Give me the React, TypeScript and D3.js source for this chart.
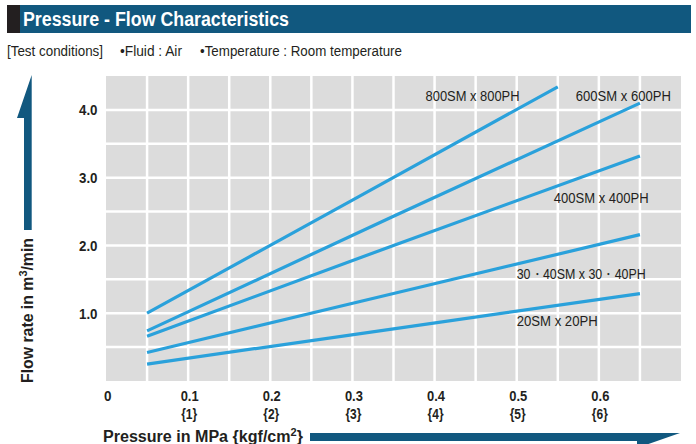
import React from "react";
import * as d3 from "d3";

const W = 696;
const H = 444;

const seriesNames = ["800SM x 800PH", "600SM x 600PH", "400SM x 400PH", "30・40SM x 30・40PH", "20SM x 20PH"];
const s800 = [[0.05, 1.0], [0.3, 2.67], [0.55, 4.34]];
const s600 = [[0.05, 0.74], [0.35, 2.43], [0.65, 4.1]];
const s400 = [[0.05, 0.66], [0.35, 2.0], [0.65, 3.32]];
const s3040 = [[0.05, 0.42], [0.35, 1.29], [0.65, 2.16]];
const s20 = [[0.05, 0.25], [0.35, 0.77], [0.65, 1.29]];
const allSeries = [s800, s600, s400, s3040, s20];

const xTicks = [0.1, 0.2, 0.3, 0.4, 0.5, 0.6];
const xTickKgf = ["{1}", "{2}", "{3}", "{4}", "{5}", "{6}"];
const yTicks = [1.0, 2.0, 3.0, 4.0];
const xGrid = [0.05, 0.1, 0.15, 0.2, 0.25, 0.3, 0.35, 0.4, 0.45, 0.5, 0.55, 0.6, 0.65];
const yGrid = [0.5, 1.0, 1.5, 2.0, 2.5, 3.0, 3.5, 4.0];

// label placement: [x value, y value, width px]
const labelPos = [
  [0.389, 4.2, 94],
  [0.572, 4.2, 95],
  [0.545, 2.7, 95],
  [0.5, 1.58, 129],
  [0.5, 0.88, 81],
];

const FONT = "'Liberation Sans', Arial, Helvetica, sans-serif";
const BLUE = "#11587f";
const LINE = "#2aa1db";
const TXT = "#231f20";

export default function App() {
  const x = d3.scaleLinear().domain([0, 0.7]).range([106, 681]);
  const y = d3.scaleLinear().domain([0, 4.5]).range([381, 76]);
  const line = d3.line<number[]>().x((d) => x(d[0])).y((d) => y(d[1]));

  return (
    <svg width={W} height={H} style={{ position: "absolute", left: 0, top: 0, background: "#fff" }} fontFamily={FONT}>
      {/* header */}
      <rect x={7} y={5} width={13} height={28} fill="#231f20" />
      <rect x={20} y={5} width={671} height={28} fill={BLUE} />
      <text x={23} y={26} fill="#fff" fontSize={20} fontWeight="bold" textLength={266} lengthAdjust="spacingAndGlyphs">
        Pressure - Flow Characteristics
      </text>
      <text x={7} y={56} fill={TXT} fontSize={14} textLength={96} lengthAdjust="spacingAndGlyphs">[Test conditions]</text>
      <text x={120} y={56} fill={TXT} fontSize={14} textLength={62} lengthAdjust="spacingAndGlyphs">•Fluid : Air</text>
      <text x={200} y={56} fill={TXT} fontSize={14} textLength={202} lengthAdjust="spacingAndGlyphs">•Temperature : Room temperature</text>

      {/* plot background */}
      <rect x={x(0)} y={y(4.5)} width={x(0.7) - x(0)} height={y(0) - y(4.5)} fill="#dcdcdc" />
      {xGrid.map((g) => (
        <line key={"xg" + g} x1={x(g)} x2={x(g)} y1={y(4.5)} y2={y(0)} stroke="#fff" strokeWidth={2.5} />
      ))}
      {yGrid.map((g) => (
        <line key={"yg" + g} x1={x(0)} x2={x(0.7)} y1={y(g)} y2={y(g)} stroke="#fff" strokeWidth={2.5} />
      ))}

      {/* series */}
      {allSeries.map((s, i) => (
        <path key={"s" + i} d={line(s) || ""} fill="none" stroke={LINE} strokeWidth={3.2} />
      ))}
      {seriesNames.map((n, i) => (
        <text key={"l" + i} x={x(labelPos[i][0])} y={y(labelPos[i][1]) + 5} fill={TXT} fontSize={14}
          textLength={labelPos[i][2]} lengthAdjust="spacingAndGlyphs">
          {n}
        </text>
      ))}

      {/* y ticks */}
      {yTicks.map((t) => (
        <text key={"yt" + t} x={79} y={y(t) + 5.5} fill={TXT} fontSize={15.5} fontWeight="bold"
          textLength={18.5} lengthAdjust="spacingAndGlyphs">
          {t.toFixed(1)}
        </text>
      ))}
      {/* x ticks */}
      <text x={104} y={400.5} fill={TXT} fontSize={15.5} fontWeight="bold" textLength={7.5} lengthAdjust="spacingAndGlyphs">0</text>
      {xTicks.map((t, i) => (
        <g key={"xt" + t}>
          <text x={x(t) - 7.5} y={400.5} fill={TXT} fontSize={15.5} fontWeight="bold"
            textLength={18} lengthAdjust="spacingAndGlyphs">{t.toFixed(1)}</text>
          <text x={x(t) - 7} y={418.5} fill={TXT} fontSize={15.5} fontWeight="bold"
            textLength={16} lengthAdjust="spacingAndGlyphs">{xTickKgf[i]}</text>
        </g>
      ))}

      {/* y axis title + arrow */}
      <path d="M31.7,75 L17,118 L24,118 L24,230 L31.7,230 Z" fill={BLUE} />
      <text transform="translate(33,310.5) rotate(-90)" textAnchor="middle" fill={TXT} fontSize={16} fontWeight="bold"
        textLength={145} lengthAdjust="spacingAndGlyphs">
        Flow rate in m<tspan fontSize={11} dy={-6}>3</tspan><tspan dy={6}>/min</tspan>
      </text>

      {/* x axis title + arrow */}
      <text x={103} y={441.5} fill={TXT} fontSize={16} fontWeight="bold" textLength={200} lengthAdjust="spacingAndGlyphs">
        Pressure in MPa {"{kgf/cm"}<tspan fontSize={11} dy={-6}>2</tspan><tspan dy={6}>{"}"}</tspan>
      </text>
      <path d="M310,433 L680,433 L637,448 L637,441 L310,441 Z" fill={BLUE} />
    </svg>
  );
}
